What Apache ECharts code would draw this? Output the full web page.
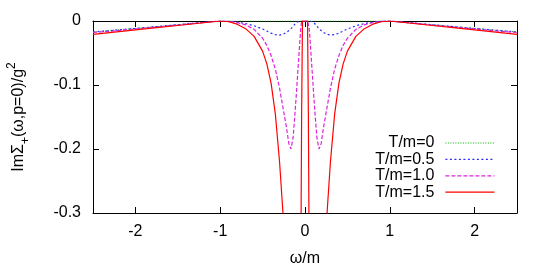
<!DOCTYPE html>
<html>
<head>
<meta charset="utf-8">
<script src="https://cdn.jsdelivr.net/npm/echarts@6/dist/echarts.min.js"></script>
<style>html,body{margin:0;padding:0;background:#fff}#c{width:548px;height:268px}</style>
</head>
<body>
<div id="c"></div>
<script>
const omega = [-2.5,-2.25,-2,-1.75,-1.5,-1.25,-1,-0.9,-0.8,-0.7,-0.6,-0.5,-0.45,-0.4,-0.35,-0.3,-0.26,-0.22,-0.19,-0.165,-0.14,-0.12,-0.1,-0.08,-0.06,-0.05,-0.04,-0.03,
  0,
  0.03,0.04,0.05,0.06,0.08,0.1,0.12,0.14,0.165,0.19,0.22,0.26,0.3,0.35,0.4,0.45,0.5,0.6,0.7,0.8,0.9,1,1.25,1.5,1.75,2,2.25,2.5];

const imT00 = [-0.017,-0.0143,-0.0115,-0.0087,-0.0057,-0.0028,0,0,0,0,0,0,0,0,0,0,0,0,0,0,0,0,0,0,0,0,0,0,
  0,
  0,0,0,0,0,0,0,0,0,0,0,0,0,0,0,0,0,0,0,0,0,0,-0.0028,-0.0057,-0.0087,-0.0115,-0.0143,-0.017];

const imT05 = [-0.0172,-0.0145,-0.0117,-0.0088,-0.0058,-0.0028,0,-0.0004,-0.0017,-0.004,-0.0075,-0.0125,-0.0157,-0.019,-0.0213,-0.022,-0.0208,-0.018,-0.015,-0.012,-0.008,-0.005,-0.002,0,0,0,0,0,
  0,
  0,0,0,0,0,-0.002,-0.005,-0.008,-0.012,-0.015,-0.018,-0.0208,-0.022,-0.0213,-0.019,-0.0157,-0.0125,-0.0075,-0.004,-0.0017,-0.0004,0,-0.0028,-0.0058,-0.0088,-0.0117,-0.0145,-0.0172];

const imT10 = [-0.018,-0.0155,-0.0125,-0.0095,-0.0063,-0.003,0,-0.0006,-0.0025,-0.006,-0.013,-0.027,-0.038,-0.054,-0.075,-0.105,-0.135,-0.165,-0.192,-0.2,-0.182,-0.148,-0.11,-0.07,-0.03,-0.012,0,0,
  0,
  0,0,-0.012,-0.03,-0.07,-0.11,-0.148,-0.182,-0.2,-0.192,-0.165,-0.135,-0.105,-0.075,-0.054,-0.038,-0.027,-0.013,-0.006,-0.0025,-0.0006,0,-0.003,-0.0063,-0.0095,-0.0125,-0.0155,-0.018];

const imT15 = [-0.021,-0.0175,-0.014,-0.0105,-0.007,-0.0035,0,-0.0012,-0.005,-0.012,-0.024,-0.047,-0.067,-0.097,-0.145,-0.22,-0.3,-0.38,-0.45,-0.52,-0.6,-0.65,-0.7,-0.7,-0.6,-0.4,-0.15,0,
  0,
  0,-0.15,-0.4,-0.6,-0.7,-0.7,-0.65,-0.6,-0.52,-0.45,-0.38,-0.3,-0.22,-0.145,-0.097,-0.067,-0.047,-0.024,-0.012,-0.005,-0.0012,0,-0.0035,-0.007,-0.0105,-0.014,-0.0175,-0.021];

const seriesNames = ['T/m=0','T/m=0.5','T/m=1.0','T/m=1.5'];
const xTicks = [-2,-1,0,1,2];
const yTicks = [0,-0.1,-0.2,-0.3];

const pairs = arr => omega.map((w,i)=>[w,arr[i]]);
const FONT = 'Liberation Sans';

const chart = echarts.init(document.getElementById('c'), null, {renderer:'canvas'});
const lineSeries = (name, arr, color, type, width) => ({
  name, type:'line', data: pairs(arr), showSymbol:false, symbol:'none',
  lineStyle:{color, width, type}, itemStyle:{color}, clip:true, animation:false
});
const axLine = () => ({show:true,onZero:false,lineStyle:{color:'#000',width:1}});
const tickX = () => ({show:true,inside:true,length:6,lineStyle:{color:'#000',width:1},customValues:xTicks});
const tickY = () => ({show:true,inside:true,length:6,lineStyle:{color:'#000',width:1}});
chart.setOption({
  animation:false,
  grid:{left:93,right:31,top:21,bottom:55,show:false,outerBoundsMode:'none',containLabel:false},
  xAxis:[{
    type:'value', min:-2.5, max:2.5, position:'bottom',
    name:'ω/m', nameLocation:'middle', nameGap:38,
    nameTextStyle:{fontFamily:FONT,fontSize:16,color:'#000'},
    axisLine:axLine(), splitLine:{show:false},
    axisTick:tickX(),
    axisLabel:{show:true,fontFamily:FONT,fontSize:16,color:'#000',margin:11,customValues:xTicks}
  },{
    type:'value', min:-2.5, max:2.5, position:'top',
    axisLine:axLine(), splitLine:{show:false},
    axisTick:tickX(),
    axisLabel:{show:false}
  }],
  yAxis:[{
    type:'value', min:-0.3, max:0, interval:0.1, position:'left',
    name:'{a|ImΣ}{sub|+}{a|(ω,p=0)/g}{sup|2}', nameLocation:'middle', nameGap:61, nameRotate:90,
    nameTextStyle:{fontFamily:FONT,fontSize:16,color:'#000',
      rich:{
        a:{fontFamily:FONT,fontSize:16,color:'#000',lineHeight:26,verticalAlign:'middle'},
        sub:{fontFamily:FONT,fontSize:12,color:'#000',lineHeight:12,verticalAlign:'bottom'},
        sup:{fontFamily:FONT,fontSize:12,color:'#000',lineHeight:12,verticalAlign:'top'}
      }},
    axisLine:axLine(), splitLine:{show:false},
    axisTick:tickY(),
    axisLabel:{show:true,fontFamily:FONT,fontSize:16,color:'#000',margin:12,
      formatter:v=>{const r=Math.round(v*10)/10; return r===0?'0':String(r);}}
  },{
    type:'value', min:-0.3, max:0, interval:0.1, position:'right',
    axisLine:axLine(), splitLine:{show:false},
    axisTick:tickY(),
    axisLabel:{show:false}
  }],
  legend:{
    orient:'vertical', right:53, top:135, padding:0, align:'right',
    itemWidth:49, itemHeight:18, itemGap:0.4,
    itemStyle:{opacity:0},
    lineStyle:{width:1.2},
    textStyle:{fontFamily:FONT,fontSize:16,color:'#000',padding:[0,6,0,0]},
    data:seriesNames
  },
  series:[
    lineSeries(seriesNames[0], imT00, '#00b000', [1,1.5], 1),
    lineSeries(seriesNames[1], imT05, '#2a2aff', [2,2.5], 1.2),
    lineSeries(seriesNames[2], imT10, '#dd22dd', [4,2], 1.2),
    lineSeries(seriesNames[3], imT15, '#ff0000', 'solid', 1.2)
  ]
});
</script>
</body>
</html>
